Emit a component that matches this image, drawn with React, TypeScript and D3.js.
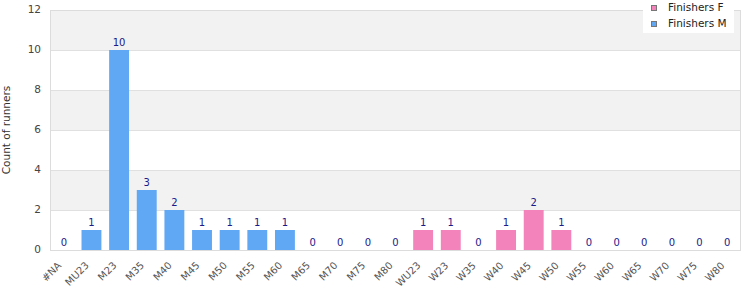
import React from "react";
import * as d3 from "d3";

const categories = ["#NA","MU23","M23","M35","M40","M45","M50","M55","M60","M65","M70","M75","M80","WU23","W23","W35","W40","W45","W50","W55","W60","W65","W70","W75","W80"];
const finishersM = [0,1,10,3,2,1,1,1,1,0,0,0,0,0,0,0,0,0,0,0,0,0,0,0,0];
const finishersF = [0,0,0,0,0,0,0,0,0,0,0,0,0,1,1,0,1,2,1,0,0,0,0,0,0];
const yTicks = [0,2,4,6,8,10,12];
const seriesNames = ["Finishers F", "Finishers M"];
const seriesColors = ["#f283bb", "#60a8f4"];

const W = 750, H = 300;
const m = { left: 50, right: 9, top: 10, bottom: 50 };

export default function App() {
  const x = d3.scaleBand().domain(categories).range([m.left, W - m.right]).paddingInner(0.28).paddingOuter(0.14);
  const y = d3.scaleLinear().domain([0, 12]).range([H - m.bottom, m.top]);
  const font = "DejaVu Sans, Verdana, sans-serif";
  const bands = [];
  for (let i = 0; i < yTicks.length - 1; i++) {
    bands.push({ y0: yTicks[i], y1: yTicks[i + 1], grey: i % 2 === 1 });
  }
  return (
    <svg width={W} height={H} style={{ position: "absolute", left: 0, top: 0 }} fontFamily={font}>
      {bands.map((b, i) => (
        <rect key={i} x={m.left} y={y(b.y1)} width={W - m.right - m.left} height={y(b.y0) - y(b.y1)} fill={b.grey ? "#f2f2f2" : "#ffffff"} />
      ))}
      {yTicks.slice(1).map((t) => (
        <line key={t} x1={m.left} x2={W - m.right} y1={y(t) + 0.5} y2={y(t) + 0.5} stroke="#e0e0e0" />
      ))}
      <rect x={m.left + 0.5} y={m.top + 0.5} width={W - m.right - m.left - 1} height={H - m.bottom - m.top} fill="none" stroke="#dcdcdc" />
      {categories.map((c, i) => {
        const xv = x(c)!;
        const f = finishersF[i], mm = finishersM[i];
        return (
          <g key={c}>
            {mm > 0 && <rect x={xv} y={y(mm)} width={x.bandwidth()} height={y(0) - y(mm)} fill={seriesColors[1]} />}
            {f > 0 && <rect x={xv} y={y(mm + f)} width={x.bandwidth()} height={y(mm) - y(mm + f)} fill={seriesColors[0]} />}
            <text x={xv + x.bandwidth() / 2} y={y(mm + f) - 4} textAnchor="middle" fontSize={10} fill="#1a1a8a">{mm + f}</text>
            <text transform={`translate(${xv + x.bandwidth() / 2 - 4},${H - m.bottom + 14}) rotate(-45)`} textAnchor="end" dominantBaseline="middle" fontSize={10} fill="#555">{c}</text>
          </g>
        );
      })}
      {yTicks.map((t) => (
        <text key={t} x={m.left - 9} y={y(t)} textAnchor="end" dominantBaseline="middle" fontSize={10.5} fill="#444">{t}</text>
      ))}
      <text transform={`translate(7,${(m.top + H - m.bottom) / 2}) rotate(-90)`} textAnchor="middle" dominantBaseline="middle" fontSize={10.5} fill="#333">Count of runners</text>
      <rect x={643} y={0} width={91} height={33} fill="#ffffff" />
      {seriesNames.map((s, i) => (
        <g key={s}>
          <rect x={651.5} y={5.5 + i * 16} width={5} height={5} fill={seriesColors[i]} stroke="#777" />
          <text x={668} y={8 + i * 16} dominantBaseline="middle" fontSize={10.5} fill="#222">{s}</text>
        </g>
      ))}
    </svg>
  );
}
